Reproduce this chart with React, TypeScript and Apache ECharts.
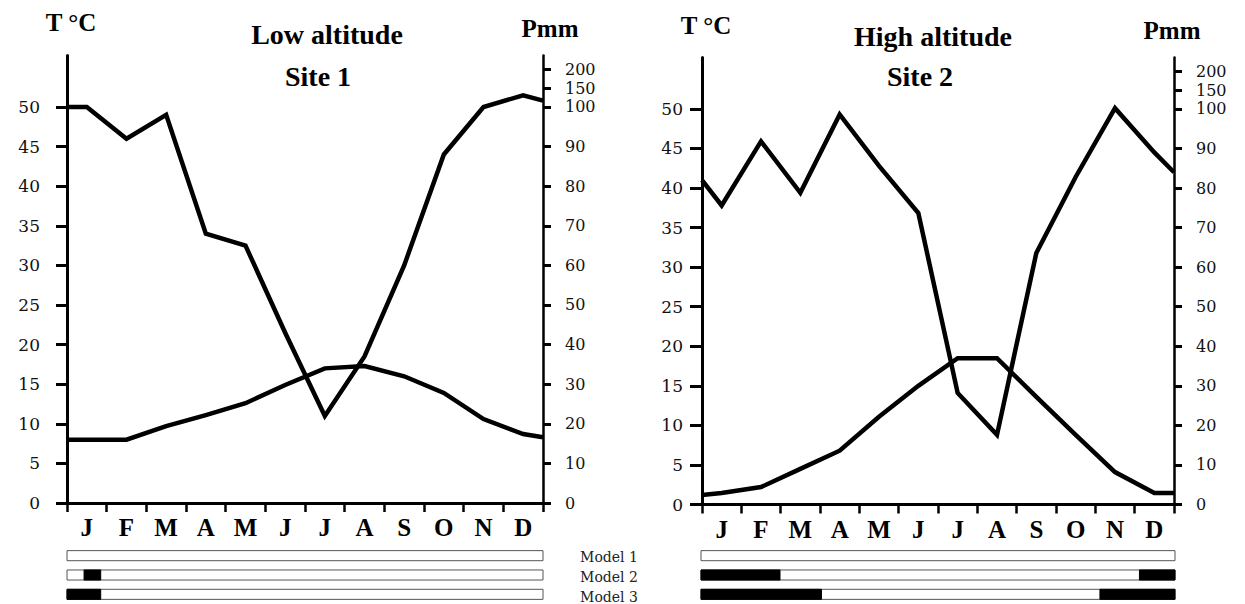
import React, { useEffect, useRef } from "react";
import * as echarts from "echarts";

const months = ["J", "F", "M", "A", "M", "J", "J", "A", "S", "O", "N", "D"];
const tempTicks = [0, 5, 10, 15, 20, 25, 30, 35, 40, 45, 50];
const precipTicks = [0, 10, 20, 30, 40, 50, 60, 70, 80, 90, 100, 150, 200];
const modelNames = ["Model 1", "Model 2", "Model 3"];

// Site 1 (low altitude)
const site1Temp = [8, 8, 9.7, 11.1, 12.6, 14.9, 17.0, 17.3, 16.0, 13.9, 10.6, 8.7];
const site1TempEdges = [8, 8.3];
const site1Precip = [100, 92, 98, 68, 65, 43, 22, 37, 60, 88, 100, 131];
const site1PrecipEdges = [100, 117];

// Site 2 (high altitude)
const site2Temp = [1.45, 2.2, 4.5, 6.8, 11.1, 15.0, 18.5, 18.5, 13.6, 8.8, 4.1, 1.45];
const site2TempEdges = [1.2, 1.45];
const site2Precip = [75.6, 91.8, 78.8, 98.6, 85.6, 73.7, 28.2, 17.6, 63.6, 82.8, 102, 89];
const site2PrecipEdges = [82, 84];

// model bars: black segments in month units [start, end] per model row
const site1Models = [[], [[0.43, 0.85]], [[0, 0.85]]];
const site2Models = [[], [[0, 2.0], [11.1, 12]], [[0, 3.05], [10.1, 12]]];

const TMAX = 56.5;
const K = 0.095; // compression above 100 mm
const pMap = (p: number) => (p <= 100 ? p : 100 + (p - 100) * K);

const serif = "'Liberation Serif', 'Times New Roman', serif";
const numFont = "'DejaVu Serif', serif";

function lineData(vals: number[], edges: number[], f: (v: number) => number) {
  return [[0, f(edges[0])], ...vals.map((v, i) => [i + 0.5, f(v)]), [12, f(edges[1])]];
}

function modelData(models: number[][][]) {
  const d: number[][] = [];
  models.forEach((_, r) => d.push([r, 0, 12, 0]));
  models.forEach((segs, r) => segs.forEach((s) => d.push([r, s[0], s[1], 1])));
  return d;
}

export default function App() {
  const ref = useRef<HTMLDivElement>(null);
  useEffect(() => {
    const chart = echarts.init(ref.current!, null, { renderer: "svg" });
    const grids = [
      { left: 67, top: 55.5, width: 476, height: 447.5 },
      { left: 702, top: 57.5, width: 472, height: 447 },
      { left: 67, top: 546, width: 476, height: 64.5 },
      { left: 701, top: 546, width: 474, height: 64.5 },
    ];
    const catX = (gi: number) => ({
      type: "category",
      gridIndex: gi,
      data: months,
      boundaryGap: true,
      axisLine: { lineStyle: { color: "#000", width: 3 } },
      axisTick: { show: true, length: 9, interval: 0, lineStyle: { color: "#000", width: 2.5 } },
      axisLabel: {
        interval: 0,
        margin: 12,
        color: "#000",
        fontFamily: serif,
        fontWeight: "bold",
        fontSize: 25,
      },
    });
    const valX = (gi: number) => ({ type: "value", gridIndex: gi, min: 0, max: 12, show: false });
    const tAxis = (gi: number, margin: number, tick: number) => ({
      type: "value",
      gridIndex: gi,
      position: "left",
      min: 0,
      max: TMAX,
      splitLine: { show: false },
      axisLine: { show: true, lineStyle: { color: "#000", width: 3 } },
      axisTick: { show: true, length: tick, customValues: tempTicks, lineStyle: { color: "#000", width: 3 } },
      axisLabel: {
        customValues: tempTicks,
        margin,
        color: "#111",
        fontFamily: numFont,
        fontSize: 17,
      },
    });
    const pAxis = (gi: number) => ({
      type: "value",
      gridIndex: gi,
      position: "right",
      min: 0,
      max: TMAX * 2,
      splitLine: { show: false },
      axisLine: { show: true, lineStyle: { color: "#000", width: 2.5 } },
      axisTick: {
        show: true,
        length: 8,
        customValues: precipTicks.map(pMap),
        lineStyle: { color: "#000", width: 3 },
      },
      axisLabel: {
        customValues: precipTicks.map(pMap),
        margin: 22,
        color: "#111",
        fontFamily: numFont,
        fontSize: 16,
        lineHeight: 16,
        formatter: (v: number) => {
          const idx = precipTicks.findIndex((p) => Math.abs(pMap(p) - v) < 0.01);
          return idx >= 0 ? String(precipTicks[idx]) : "";
        },
      },
    });
    const modelY = (gi: number) => ({
      type: "category",
      gridIndex: gi,
      data: modelNames,
      inverse: true,
      show: false,
    });
    const lineSeries = (xi: number, yi: number, data: number[][]) => ({
      type: "line",
      xAxisIndex: xi,
      yAxisIndex: yi,
      data,
      symbol: "none",
      lineStyle: { color: "#000", width: 4.5, join: "miter" },
      z: 5,
    });
    const modelSeries = (xi: number, yi: number, data: number[][]) => ({
      type: "custom",
      xAxisIndex: xi,
      yAxisIndex: yi,
      data,
      encode: { x: [1, 2], y: 0 },
      renderItem: (_p: any, api: any) => {
        const row = api.value(0);
        const s = api.value(1);
        const e = api.value(2);
        const f = api.value(3);
        const p0 = api.coord([s, row]);
        const p1 = api.coord([e, row]);
        const h = api.size([0, 1])[1] * 0.52;
        return {
          type: "rect",
          shape: { x: p0[0], y: p0[1] - h / 2, width: p1[0] - p0[0], height: h },
          style: { fill: f ? "#000" : "#fff", stroke: f ? "#000" : "#555", lineWidth: 1 },
        };
      },
    });
    const txt = (x: number, y: number, t: string, size: number) => ({
      type: "text",
      x,
      y,
      style: {
        text: t,
        fill: "#000",
        font: `bold ${size}px ${serif}`,
        textAlign: "center",
        textVerticalAlign: "middle",
      },
    });
    const modelLabel = (y: number, t: string) => ({
      type: "text",
      x: 609,
      y,
      style: {
        text: t,
        fill: "#222",
        font: `14px ${numFont}`,
        textAlign: "center",
        textVerticalAlign: "middle",
      },
    });
    chart.setOption({
      animation: false,
      backgroundColor: "#fff",
      grid: grids,
      xAxis: [catX(0), valX(0), catX(1), valX(1), valX(2), valX(3)],
      yAxis: [tAxis(0, 27, 11), pAxis(0), tAxis(1, 19, 12), pAxis(1), modelY(2), modelY(3)],
      series: [
        lineSeries(1, 0, lineData(site1Temp, site1TempEdges, (v) => v)),
        lineSeries(1, 1, lineData(site1Precip, site1PrecipEdges, pMap)),
        lineSeries(3, 2, lineData(site2Temp, site2TempEdges, (v) => v)),
        lineSeries(3, 3, lineData(site2Precip, site2PrecipEdges, pMap)),
        modelSeries(4, 4, modelData(site1Models)),
        modelSeries(5, 5, modelData(site2Models)),
      ],
      graphic: [
        txt(71, 22, "T °C", 25),
        txt(550, 28, "Pmm", 25),
        txt(327, 34, "Low altitude", 28),
        txt(318, 76, "Site 1", 28),
        txt(706, 25, "T °C", 25),
        txt(1172, 30, "Pmm", 25),
        txt(933, 36, "High altitude", 28),
        txt(920, 76, "Site 2", 28),
        ...modelNames.map((m, i) => modelLabel(557 + i * 20, m)),
      ],
    });
    return () => chart.dispose();
  }, []);
  return (
    <div
      ref={ref}
      style={{ position: "absolute", left: 0, top: 0, width: 1245, height: 604, background: "#fff" }}
    />
  );
}
